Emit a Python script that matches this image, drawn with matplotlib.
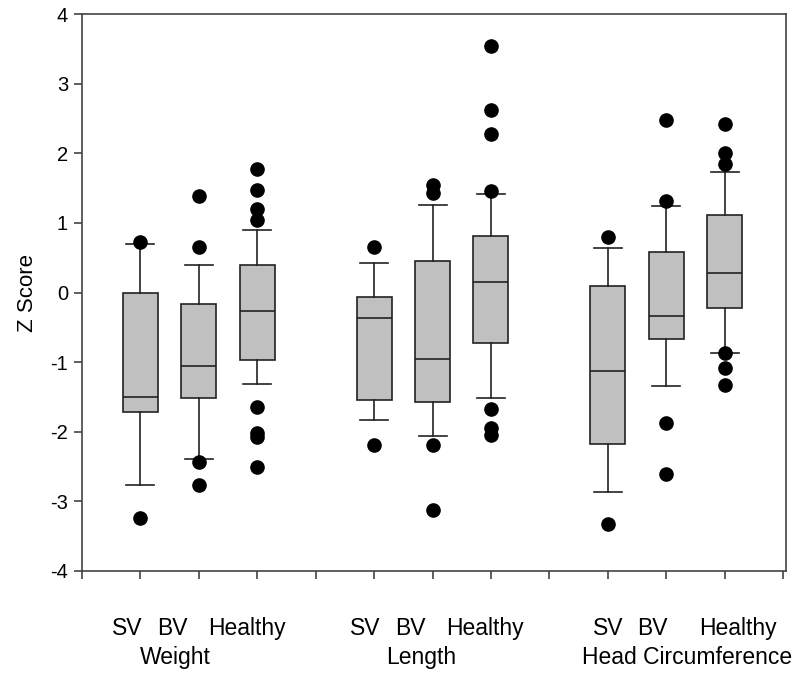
import matplotlib
matplotlib.use("Agg")
import matplotlib.pyplot as plt
from matplotlib import font_manager

# ---------------- data ----------------
groups = ["Weight", "Length", "Head Circumference"]
subgroups = ["SV", "BV", "Healthy"]

positions = [1, 2, 3, 5, 6, 7, 9, 10, 11]

q1 = [-1.72, -1.51, -0.97, -1.54, -1.57, -0.73, -2.17, -0.67, -0.22]
med = [-1.50, -1.05, -0.26, -0.37, -0.95, 0.15, -1.13, -0.34, 0.28]
q3 = [-0.01, -0.17, 0.39, -0.06, 0.45, 0.81, 0.10, 0.59, 1.11]
whislo = [-2.77, -2.39, -1.31, -1.83, -2.06, -1.51, -2.87, -1.35, -0.87]
whishi = [0.70, 0.40, 0.90, 0.42, 1.26, 1.42, 0.64, 1.25, 1.73]
fliers = [
    [0.73, -3.24],
    [1.39, 0.65, -2.43, -2.77],
    [1.78, 1.47, 1.20, 1.04, -1.64, -2.02, -2.07, -2.50],
    [0.65, -2.19],
    [1.55, 1.43, -2.19, -3.12],
    [3.54, 2.62, 2.28, 1.46, -1.68, -1.95, -2.05],
    [0.80, -3.33],
    [2.48, 1.32, -1.88, -2.61],
    [2.42, 2.00, 1.85, -0.87, -1.09, -1.33],
]

yticks = [-4, -3, -2, -1, 0, 1, 2, 3, 4]
xticks = list(range(0, 13))

# ---------------- style ----------------
names = {f.name for f in font_manager.fontManager.ttflist}
base_font = "Liberation Sans" if "Liberation Sans" in names else "DejaVu Sans"
narrow_font = "Liberation Sans Narrow" if "Liberation Sans Narrow" in names else base_font
plt.rcParams["font.family"] = [base_font, "DejaVu Sans"]

fig = plt.figure(figsize=(8.0, 6.78), dpi=100)
ax = fig.add_axes([0.1025, 0.158, 0.88, 0.821])

stats = []
for i in range(len(positions)):
    stats.append(dict(med=med[i], q1=q1[i], q3=q3[i],
                      whislo=whislo[i], whishi=whishi[i], fliers=fliers[i]))

lc = "#222222"
ax.bxp(stats, positions=positions, widths=0.6, patch_artist=True,
       showfliers=True,
       boxprops=dict(facecolor="#c0c0c0", edgecolor=lc, linewidth=1.2),
       medianprops=dict(color=lc, linewidth=1.2),
       whiskerprops=dict(color=lc, linewidth=1.2),
       capprops=dict(color=lc, linewidth=1.2),
       capwidths=0.48,
       flierprops=dict(marker="o", markerfacecolor="black",
                       markeredgecolor="black", markersize=9.5))

ax.set_xlim(0, 12.05)
ax.set_ylim(-4, 4)
ax.set_yticks(yticks)
ax.set_yticklabels([str(t) for t in yticks], fontsize=14.5, family=narrow_font)
ax.set_xticks(xticks)
ax.set_xticklabels([])
ax.tick_params(axis="both", direction="out", length=6, width=1.1, color="#333333", pad=4)
for s in ax.spines.values():
    s.set_color("#444444")
    s.set_linewidth(1.2)

ax.set_ylabel("Z Score", fontsize=16, family=narrow_font, labelpad=9)

# category labels below the axis
sub_x = [[0.78, 1.55, 2.83], [4.84, 5.62, 6.90], [9.0, 9.77, 11.22]]
grp_x = [1.60, 5.80, 10.36]
trans = ax.get_xaxis_transform()
for g in range(3):
    for k in range(3):
        ax.text(sub_x[g][k], -0.104, subgroups[k], transform=trans,
                ha="center", va="center", fontsize=16.5, family=narrow_font)
    ax.text(grp_x[g], -0.155, groups[g], transform=trans,
            ha="center", va="center", fontsize=16.5, family=narrow_font)

fig.savefig("out.png", dpi=100)
